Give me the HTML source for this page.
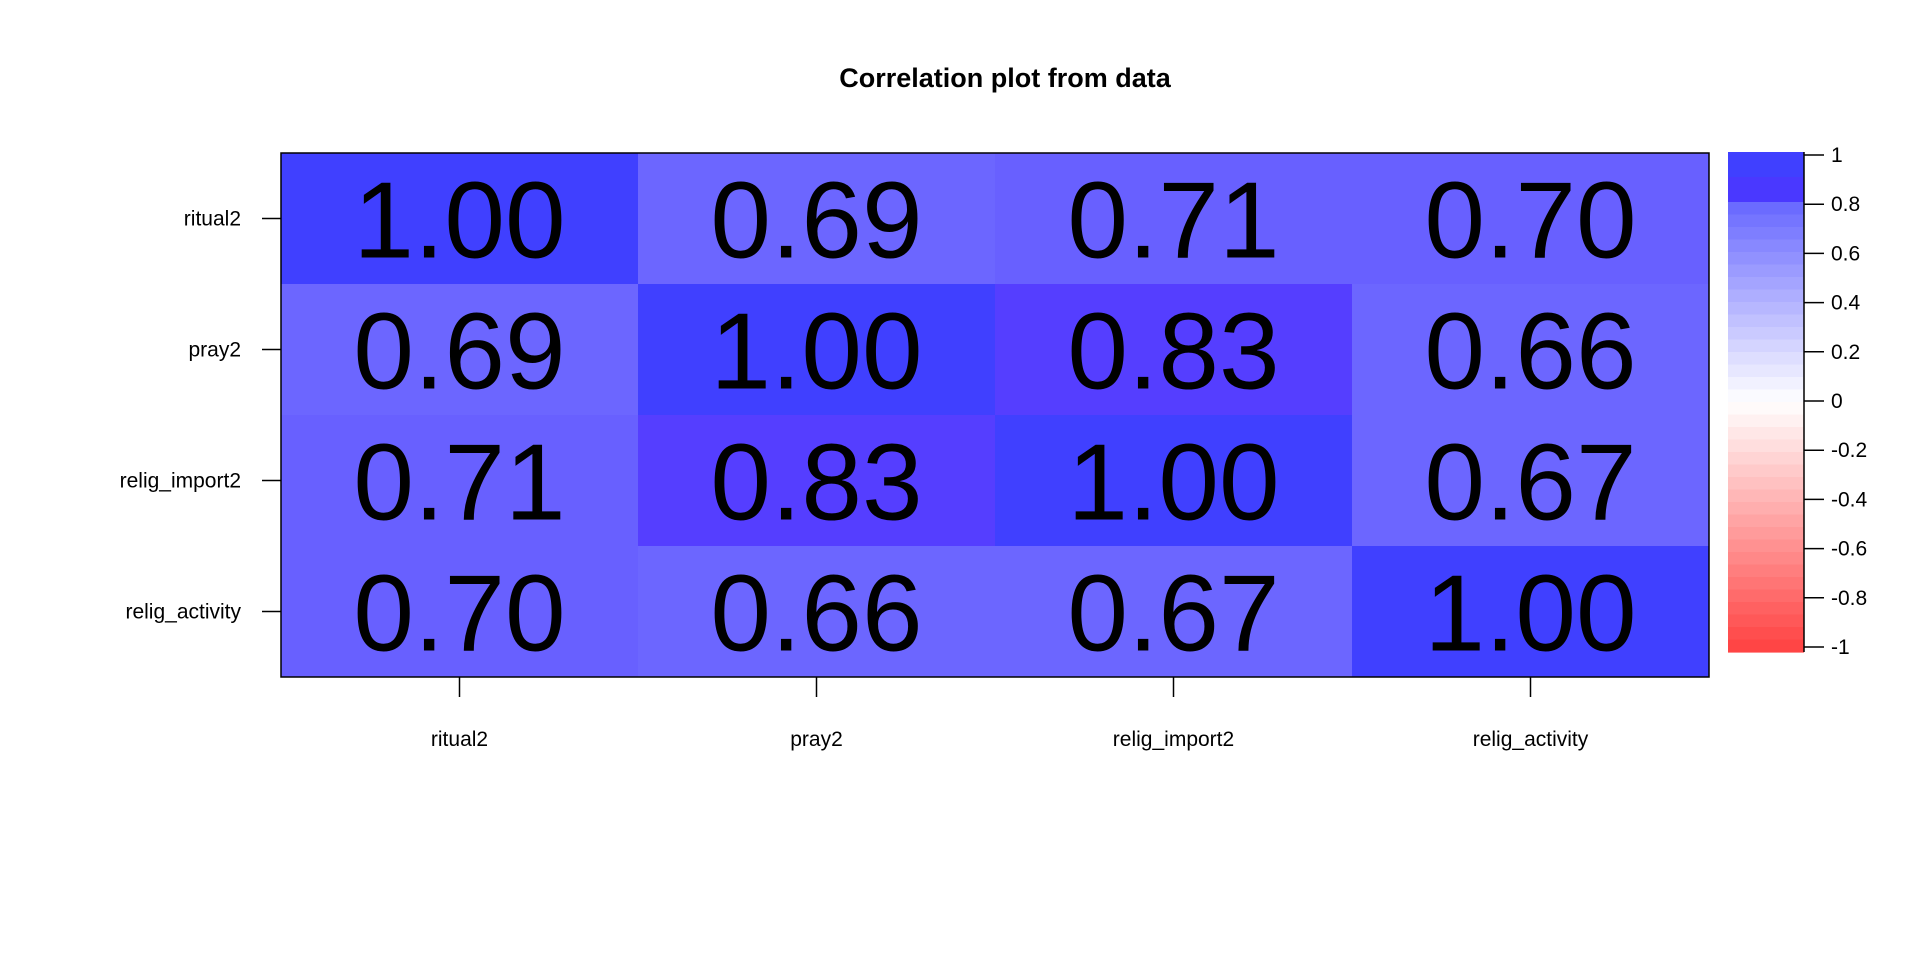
<!DOCTYPE html>
<html><head><meta charset="utf-8"><style>
html,body{margin:0;padding:0;background:#fff;}
svg{display:block;font-family:"Liberation Sans",Arial,sans-serif;}
</style></head><body>
<svg id="chart" width="1920" height="960" viewBox="0 0 1920 960">
<text x="1005" y="87" text-anchor="middle" font-size="27" font-weight="bold">Correlation plot from data</text>
<g id="cells"></g>
<g id="axes"></g>
<g id="legend"></g>
</svg>
<script>
const categories = ["ritual2","pray2","relig_import2","relig_activity"];
const row0 = [1.00,0.69,0.71,0.70];
const row1 = [0.69,1.00,0.83,0.66];
const row2 = [0.71,0.83,1.00,0.67];
const row3 = [0.70,0.66,0.67,1.00];
const legendTicks = [1,0.8,0.6,0.4,0.2,0,-0.2,-0.4,-0.6,-0.8,-1];
const legendLabels = ["1","0.8","0.6","0.4","0.2","0","-0.2","-0.4","-0.6","-0.8","-1"];

const NS="http://www.w3.org/2000/svg";
const rows=[row0,row1,row2,row3];
const L=281,T=153,CW=357,CH=131;
const xPos=i=>L+i*CW, yPos=j=>T+j*CH;
function mk(tag,attrs,parent){const e=document.createElementNS(NS,tag);for(const k in attrs)e.setAttribute(k,attrs[k]);parent.appendChild(e);return e;}
function colorFor(v){
  if(v>=0.95) return "#4040FF";
  if(v>=0.8) return "#553EFF";
  if(v>=0.7) return "#6860FF";
  if(v>=0.6) return "#6C66FF";
  return colorScale(v);
}
function colorScale(v){
  const t=Math.abs(v);
  if(v>=0){const c=Math.round(255-t*191);return `rgb(${c},${c},255)`;}
  const c=Math.round(255-t*191);return `rgb(255,${c},${c})`;
}
const cells=document.getElementById('cells');
rows.forEach((r,j)=>r.forEach((v,i)=>{
  const rc=mk('rect',{x:xPos(i),y:yPos(j),width:CW,height:CH,fill:colorFor(v)},cells);
  
  
  const tx=mk('text',{x:xPos(i)+CW/2,y:yPos(j)+CH/2+39,'text-anchor':'middle','font-size':109},cells);
  tx.textContent=v.toFixed(2);
  
  
}));
const ax=document.getElementById('axes');
mk('rect',{x:L,y:T,width:CW*4,height:CH*4,fill:'none',stroke:'#000','stroke-width':1.5},ax);
categories.forEach((c,k)=>{
  const cy=yPos(k)+CH/2;
  mk('line',{x1:262,y1:cy,x2:L,y2:cy,stroke:'#000','stroke-width':1.5},ax);
  const yl=mk('text',{x:241,y:cy+7,'text-anchor':'end','font-size':21},ax);
  yl.textContent=c;
  
  
  const cx=xPos(k)+CW/2;
  mk('line',{x1:cx,y1:T+CH*4,x2:cx,y2:T+CH*4+20,stroke:'#000','stroke-width':1.5},ax);
  const xl=mk('text',{x:cx,y:746,'text-anchor':'middle','font-size':21},ax);
  xl.textContent=c;
  
  
});
const lg=document.getElementById('legend');
const LX=1728,LW=76,LT=152,LB=652;
const ly=v=>155+(1-v)/2*(647-155);
const N=40;
for(let b=0;b<N;b++){
  const v1=1-b*2/N, vm=v1-1/N;
  const r=mk('rect',{x:LX,y:LT+b*(LB-LT)/N,width:LW,height:(LB-LT)/N+0.6,fill:vm>=0.8?(vm>=0.9?"#4040FF":"#4A38FF"):colorScale(vm)},lg);
  
  
}
mk('line',{x1:LX+LW,y1:LT,x2:LX+LW,y2:LB,stroke:'#000','stroke-width':1.5},lg);
legendTicks.forEach((v,k)=>{
  const y=ly(v);
  mk('line',{x1:LX+LW,y1:y,x2:1824,y2:y,stroke:'#000','stroke-width':1.5},lg);
  const t=mk('text',{x:1831,y:y+7,'font-size':21},lg);
  t.textContent=legendLabels[k];
  
  
});
</script>
</body></html>
